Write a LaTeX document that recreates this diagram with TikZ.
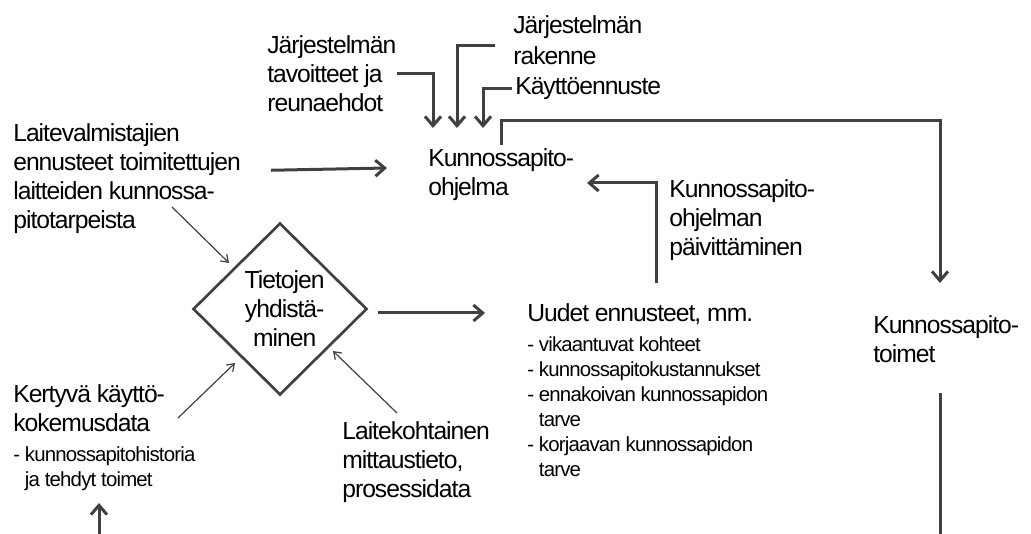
\documentclass[tikz,border=0pt]{standalone}
\usepackage{fontspec}
\setmainfont{Liberation Sans}[LetterSpace=-4.0]
\usetikzlibrary{arrows.meta,shapes.geometric}

\definecolor{linec}{HTML}{404040}
\newcommand\bigf{\fontsize{18.5}{21.75}\selectfont\spaceskip=0pt\xspaceskip=0pt}
\newcommand\smallf{\fontsize{15.3}{18.75}\selectfont\spaceskip=0pt\xspaceskip=0pt}
\newlength\dashw
% a dash item with the following lines hanging under its text
\newcommand\fcitem[1]{\par\settowidth\dashw{-\ }\hangindent=\dashw\hangafter=1\noindent -\ #1}

\tikzset{
  txt/.style={inner sep=0pt, anchor=north west, align=left, font=\bigf},
  listtxt/.style={txt, align=flush left},
  bigarrow/.style={draw=linec, line width=2.25pt, -{Straight Barb[length=7pt,width=12pt]}},
  bigline/.style={draw=linec, line width=2.25pt},
  thinarrow/.style={draw=linec, line width=0.9pt, -{Straight Barb[length=5pt,width=7pt]}},
  mergebox/.style={draw=linec, line width=2pt, diamond, aspect=1, inner sep=0pt,
    minimum width=130.5pt, minimum height=129pt, align=center, font=\bigf}
}

\begin{document}
\begin{tikzpicture}[x=0.75pt, y=-0.75pt]
\useasboundingbox (0,0) rectangle (1031,534);

% texts
\node[txt] (goals) at (267,35) {Järjestelmän\\tavoitteet ja\\reunaehdot};
\node[txt] (struct) at (513,15) {Järjestelmän\\[1.5pt]rakenne};
\node[txt] (usage) at (515,77) {Käyttöennuste};
\node[txt] (prog) at (428,148) {Kunnossapito-\\ohjelma};
\node[txt] (mfr) at (13,123) {Laitevalmistajien\\ennusteet toimitettujen\\laitteiden kunnossa-\\pitotarpeista};
\node[txt] (upd) at (669,179) {Kunnossapito-\\ohjelman\\päivittäminen};
\node[mergebox] (merge) at (280,309) {\hspace*{7pt}Tietojen\\\hspace*{7pt}yhdistä-\\\hspace*{7pt}minen};
\node[listtxt, text width=240pt] (newfc) at (527,303) {\noindent\bigf Uudet ennusteet, mm.\par
  \vskip3.75pt\smallf
  \fcitem{vikaantuvat kohteet}
  \fcitem{kunnossapitokustannukset}
  \fcitem{ennakoivan kunnossapidon\newline tarve}
  \fcitem{korjaavan kunnossapidon\newline tarve}\par};
\node[txt] (toimet) at (873,315) {Kunnossapito-\\toimet};
\node[listtxt, text width=170pt] (kert) at (13,384) {\noindent\bigf Kertyvä käyttö-\newline kokemusdata\par
  \vskip3.75pt\smallf
  \fcitem{kunnossapitohistoria\newline ja tehdyt toimet}\par};
\node[txt] (laite) at (342,421) {Laitekohtainen\\mittaustieto,\\prosessidata};

% free ends at the lower edge
\coordinate (bl) at (99,534);
\coordinate (br) at (940,534);

% inputs to the maintenance programme
\draw[bigarrow] (goals.east) -| ([shift={(5,-20)}]prog.north west);
\draw[bigarrow] ([shift={(-18,6)}]struct.west) -| ([shift={(29,-20)}]prog.north west);
\draw[bigarrow] ([xshift=-2.25pt]usage.west) -| ([shift={(55,-20)}]prog.north west);
\draw[bigarrow] ([shift={(30,-8)}]mfr.east) -- ([shift={(-41,20)}]prog.north west);

% programme to maintenance actions
\draw[bigarrow] ([shift={(73,-3)}]prog.north west) -- ++(0,-24) -| ([shift={(67,-32)}]toimet.north west);
\draw[bigline] ([shift={(67,78)}]toimet.north west) -- (br);

% merging of data and new forecasts
\draw[bigarrow] ([shift={(10,4)}]merge.east) -- ([shift={(-42,10)}]newfc.north west);
\draw[bigarrow] ([shift={(129,-20)}]newfc.north west) |- ([shift={(159,35)}]prog.north west);

\draw[thinarrow] ([shift={(159,84)}]mfr.north west) -- ([shift={(-51,-46)}]merge.center);
\draw[thinarrow] ([shift={(165,34)}]kert.north west) -- ([shift={(-45,54)}]merge.center);
\draw[thinarrow] ([shift={(55,-8)}]laite.north west) -- ([shift={(53,42)}]merge.center);

\draw[bigarrow] (bl) -- ([shift={(86,119)}]kert.north west);
\end{tikzpicture}
\end{document}
